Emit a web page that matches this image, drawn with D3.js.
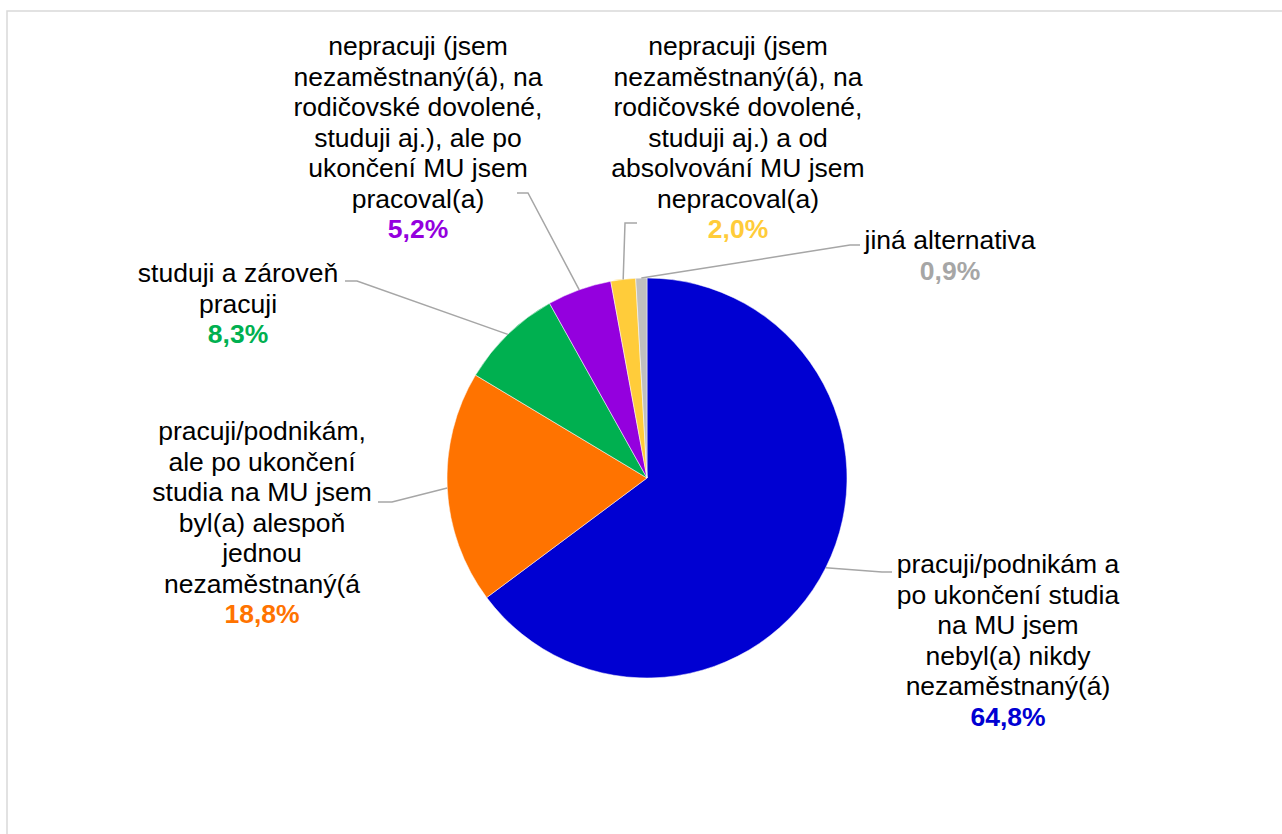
<!DOCTYPE html>
<html><head><meta charset="utf-8">
<script src="https://cdn.jsdelivr.net/npm/d3@7"></script>
<style>
html,body{margin:0;padding:0;background:#fff;}
svg{display:block;}
text{font-family:"Liberation Sans",Arial,sans-serif;}
</style></head>
<body>
<svg id="chart" width="1282" height="834"></svg>
<script>
// ---- data ----
const categories = [
  "pracuji/podnikám a\npo ukončení studia\nna MU jsem\nnebyl(a) nikdy\nnezaměstnaný(á)",
  "pracuji/podnikám,\nale po ukončení\nstudia na MU jsem\nbyl(a) alespoň\njednou\nnezaměstnaný(á",
  "studuji a zároveň\npracuji",
  "nepracuji (jsem\nnezaměstnaný(á), na\nrodičovské dovolené,\nstuduji aj.), ale po\nukončení MU jsem\npracoval(a)",
  "nepracuji (jsem\nnezaměstnaný(á), na\nrodičovské dovolené,\nstuduji aj.) a od\nabsolvování MU jsem\nnepracoval(a)",
  "jiná alternativa"
];
const values = [64.8, 18.8, 8.3, 5.2, 2.0, 0.9];
const sliceColors = ["#0000D2", "#FF7300", "#00B050", "#9400DE", "#FFCC3A", "#BFBFBF"];
const valueColors = ["#0000D2", "#FF7300", "#00B050", "#9400DE", "#FFCC3A", "#A6A6A6"];

// ---- layout ----
const cx = 647, cy = 478, R = 200;
const lineH = 30.5;
const labelPos = [
  {x: 1008, y: 573, end: [892, 572], elbow: [882, 572]},
  {x: 262,  y: 440, end: [378, 502], elbow: [392, 502]},
  {x: 238,  y: 282, end: [345, 281], elbow: [357, 281]},
  {x: 418,  y: 55,  end: [517, 193], elbow: [528, 193]},
  {x: 738,  y: 55,  end: [637, 223], elbow: [625, 223]},
  {x: 950,  y: 249, end: [860, 245], elbow: [850, 245]}
];

const svg = d3.select("#chart");
svg.append("rect").attr("x", 7).attr("y", 11).attr("width", 1400).attr("height", 1000)
  .attr("fill", "#fff").attr("stroke", "#d9d9d9").attr("stroke-width", 1.5);

const fmt = d3.formatLocale({decimal: ",", thousands: " ", grouping: [3], currency: ["", " Kč"]}).format(".1f");

const pie = d3.pie().sort(null).value(d => d).startAngle(0).endAngle(2 * Math.PI);
const arcs = pie(values);
const arc = d3.arc().innerRadius(0).outerRadius(R);
const edge = d3.arc().innerRadius(R).outerRadius(R);

const g = svg.append("g").attr("transform", `translate(${cx},${cy})`);
g.selectAll("path.slice").data(arcs).join("path")
  .attr("class", "slice")
  .attr("d", arc)
  .attr("fill", (d, i) => sliceColors[i])
  .attr("stroke", "#fff").attr("stroke-width", 0.5);

svg.selectAll("polyline.leader").data(arcs).join("polyline")
  .attr("class", "leader")
  .attr("points", (d, i) => {
    const c = edge.centroid(d);
    const p = labelPos[i];
    return [[cx + c[0], cy + c[1]], p.elbow, p.end].map(q => q.join(",")).join(" ");
  })
  .attr("fill", "none").attr("stroke", "#a6a6a6").attr("stroke-width", 1.5);

arcs.forEach((d, i) => {
  const p = labelPos[i];
  const lines = categories[i].split("\n");
  const t = svg.append("text").attr("text-anchor", "middle").attr("font-size", 26.5);
  lines.forEach((ln, k) => {
    t.append("tspan").attr("x", p.x).attr("y", p.y + k * lineH).attr("fill", "#000").text(ln);
  });
  t.append("tspan").attr("x", p.x).attr("y", p.y + lines.length * lineH)
    .attr("fill", valueColors[i]).attr("font-weight", "bold")
    .text(fmt(values[i]) + "%");
});
</script>
</body></html>
